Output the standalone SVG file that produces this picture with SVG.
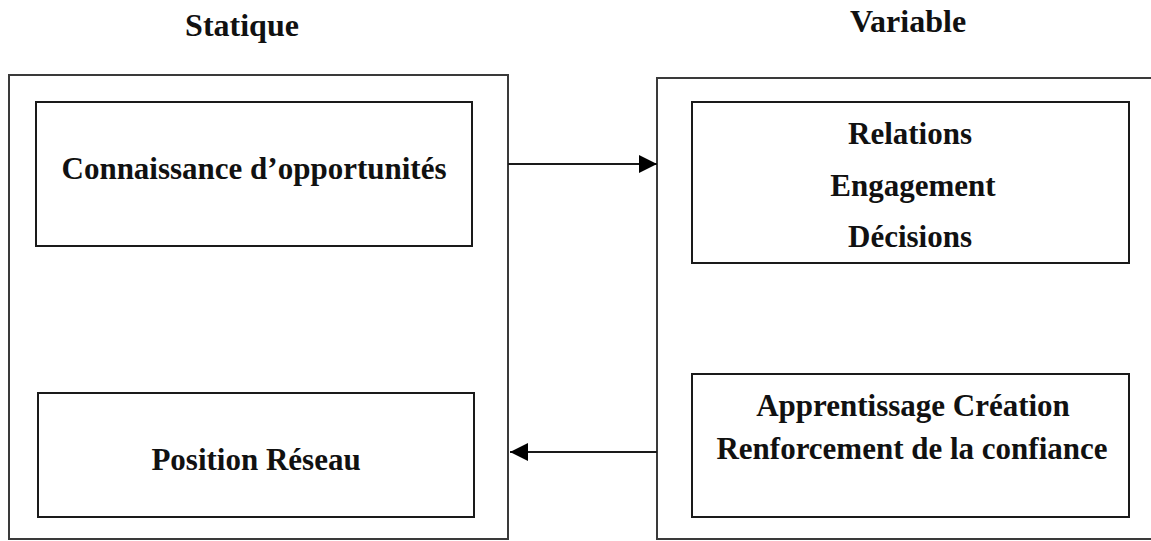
<svg xmlns="http://www.w3.org/2000/svg" width="1151" height="541" viewBox="0 0 1151 541">
  <style>
    .outer { fill: none; stroke: #3a3a3a; stroke-width: 2; }
    .inner { fill: none; stroke: #1a1a1a; stroke-width: 2; }
    .lbl { font-family: "Liberation Serif", "Times New Roman", serif; font-weight: bold; font-size: 31px; fill: #111; text-anchor: middle; }
    .title { font-size: 32px; }
    .link { fill: none; stroke: #1a1a1a; stroke-width: 2; }
  </style>
  <defs>
    <marker id="arrow" viewBox="0 0 18 18" refX="18" refY="9" markerWidth="18" markerHeight="18" markerUnits="userSpaceOnUse" orient="auto">
      <path d="M0,0 L18,9 L0,18 z" fill="#000"/>
    </marker>
  </defs>
  <rect width="1151" height="541" fill="#fff"/>

  <!-- column headings -->
  <text class="lbl title" x="242" y="36">Statique</text>
  <text class="lbl title" x="908" y="32">Variable</text>

  <!-- static column -->
  <g id="statique">
    <rect class="outer" x="9" y="75" width="499" height="464"/>
  </g>
  <g id="connaissance">
    <rect class="inner" x="36" y="102" width="436" height="144"/>
    <text class="lbl" x="254" y="179">Connaissance d’opportunités</text>
  </g>
  <g id="position">
    <rect class="inner" x="38" y="393" width="436" height="124"/>
    <text class="lbl" x="256" y="470">Position Réseau</text>
  </g>

  <!-- variable column -->
  <g id="variable">
    <rect class="outer" x="657" y="78" width="510" height="461"/>
  </g>
  <g id="relations">
    <rect class="inner" x="692" y="102" width="437" height="161"/>
    <text class="lbl" x="910" y="144">Relations</text>
    <text class="lbl" x="913" y="196">Engagement</text>
    <text class="lbl" x="910" y="247">Décisions</text>
  </g>
  <g id="apprentissage">
    <rect class="inner" x="692" y="374" width="437" height="143"/>
    <text class="lbl" x="913" y="416">Apprentissage Création</text>
    <text class="lbl" x="912" y="459">Renforcement de la confiance</text>
  </g>

  <!-- connectors -->
  <g id="connectors">
    <line class="link" x1="508" y1="164" x2="657" y2="164" marker-end="url(#arrow)"/>
    <line class="link" x1="657" y1="452" x2="510" y2="452" marker-end="url(#arrow)"/>
  </g>
</svg>
